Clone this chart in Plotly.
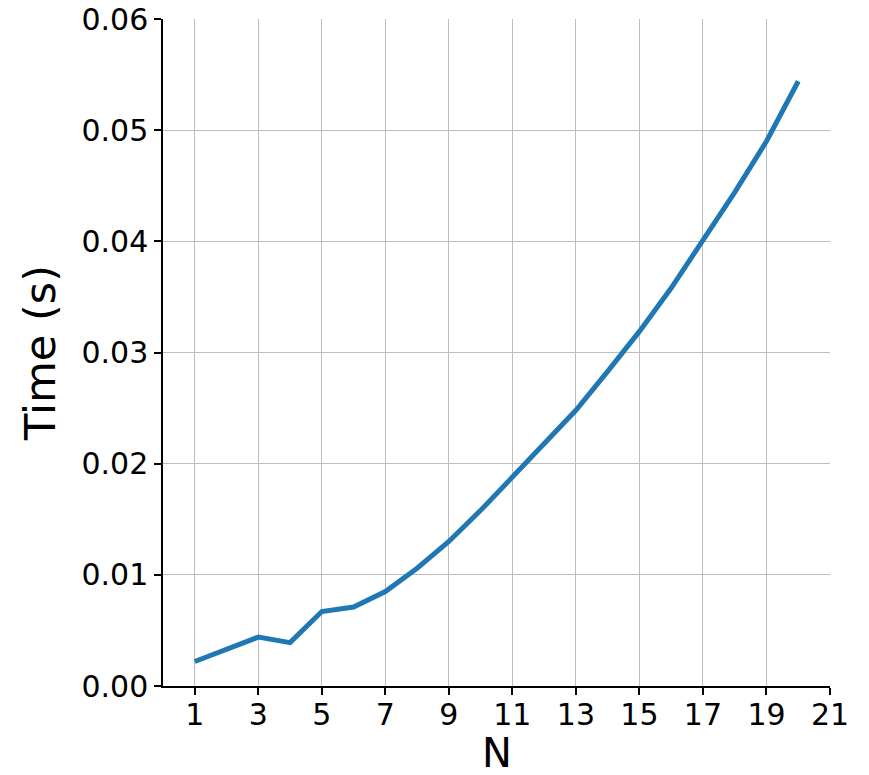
import plotly.graph_objects as go

# Dados
n_values = [1, 2, 3, 4, 5, 6, 7, 8, 9, 10, 11, 12, 13, 14, 15, 16, 17, 18, 19, 20]
tempos = [0.0022, 0.0033, 0.0044, 0.0039, 0.0067, 0.0071, 0.0085, 0.0106, 0.0130,
          0.0158, 0.0188, 0.0217, 0.0248, 0.0283, 0.0319, 0.0358, 0.0400, 0.0444,
          0.0490, 0.0544]
x_ticks = [1, 3, 5, 7, 9, 11, 13, 15, 17, 19, 21]
y_ticks = [0.00, 0.01, 0.02, 0.03, 0.04, 0.05, 0.06]

fig = go.Figure()

fig.add_trace(go.Scatter(
    x=n_values, y=tempos, mode="lines",
    line=dict(color="#1f77b4", width=5),
    showlegend=False
))

fig.update_layout(
    width=869, height=775,
    margin=dict(l=163, r=39, t=19, b=89),
    paper_bgcolor="white", plot_bgcolor="white",
    font=dict(family="DejaVu Sans", color="black", size=30),
)

fig.update_xaxes(
    range=[0.0, 21.0], automargin=False,
    tickvals=x_ticks, ticktext=[str(v) for v in x_ticks],
    ticks="outside", ticklen=7, tickwidth=1.5, tickcolor="black",
    ticklabelstandoff=-6,
    showline=True, linecolor="black", linewidth=1.5, mirror=False,
    showgrid=True, gridcolor="#bdbdbd", gridwidth=1.3,
    zeroline=False,
)

fig.update_yaxes(
    range=[0.0, 0.06], automargin=False,
    tickvals=y_ticks, ticktext=[f"{v:.2f}" for v in y_ticks],
    ticks="outside", ticklen=7, tickwidth=1.5, tickcolor="black",
    showline=True, linecolor="black", linewidth=1.5, mirror=False,
    showgrid=True, gridcolor="#bdbdbd", gridwidth=1.3,
    zeroline=False,
    title=dict(text="Time (s)", font=dict(size=43), standoff=12),
)

# título do eixo x como anotação (o título do eixo ficava espremido na margem)
fig.add_annotation(
    text="N", xref="paper", yref="paper", x=0.5, y=-0.1,
    xanchor="center", yanchor="middle", showarrow=False,
    font=dict(size=40),
)

# tira a margem padrão do body para a figura ocupar a janela toda
fig.write_html("out.html", config={"displayModeBar": False},
               post_script="document.body.style.margin='0';")
